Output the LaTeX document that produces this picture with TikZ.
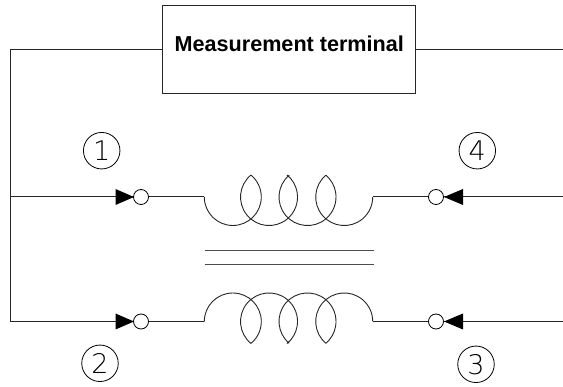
\documentclass[tikz,border=0pt]{standalone}
\usepackage{fontspec}
\setmainfont{Liberation Sans}
\newfontfamily\digitfont{DejaVu Sans}[UprightFont=* ExtraLight]
\tikzset{
  x=1pt,y=-1pt,
  wire/.style={line width=1pt,black!85},
  coil/.style={line width=0.9pt,black!85},
  termbox/.style={draw=black!85,line width=1pt,minimum width=253pt,minimum height=88pt,inner sep=0pt,text height=10pt,text depth=5.2pt,font=\bfseries\fontsize{21.6pt}{24pt}\selectfont},
  port/.style={circle,draw=black,line width=0.8pt,minimum size=15pt,inner sep=0pt,fill=white},
  tag/.style={circle,draw=black,line width=0.8pt,minimum size=36.5pt,inner sep=0pt,font=\digitfont\fontsize{27pt}{27pt}\selectfont},
  tip/.style={fill=black,draw=none},
  turn/.style={coil,x radius=28.5,y radius=-28.5}
}
\begin{document}
\begin{tikzpicture}
\useasboundingbox (0,0) rectangle (563,387);
\node[termbox] (T) at (289.3,49.3) {Measurement terminal};
\coordinate (TL) at (10,50);
\coordinate (TR) at (563,50);
\coordinate (BL1) at (10,197);
\coordinate (BL2) at (10,321.5);
\coordinate (ER1) at (563,197);
\coordinate (ER2) at (563,321.5);
\node[port] (P1) at (141,197) {};
\node[port] (P2) at (141,321.5) {};
\node[port] (P4) at (436,197) {};
\node[port] (P3) at (436,321.5) {};
\node[tag] (N1) at (101.7,150.7) {1};
\node[tag] (N2) at (100,363.3) {2};
\node[tag] (N4) at (477.3,150.7) {4};
\node[tag] (N3) at (476,364.3) {3};
\draw[wire] (T.west |- TL) -- (TL) -- (BL2) -- (P2.west);
\draw[wire] (BL1) -- (P1.west);
\draw[wire] (T.east |- TR) -- (TR);
\draw[wire] (ER1) -- (P4.east);
\draw[wire] (ER2) -- (P3.east);
\fill[tip] (134,197) -- (115.5,189) -- (115.5,205) -- cycle;
\fill[tip] (134,321.5) -- (115.5,313.5) -- (115.5,329.5) -- cycle;
\fill[tip] (444,197) -- (463,189) -- (463,205) -- cycle;
\fill[tip] (444,321.5) -- (463,313.5) -- (463,329.5) -- cycle;
% top winding
\coordinate (CA) at (204.3,197);
\coordinate (CB) at (372.7,197);
\draw[wire] (P1.east) -- (CA);
\draw[wire] (P4.west) -- (CB);
\draw[turn] (CA) arc[start angle=180,end angle=410];
\draw[turn] (251.1,174.9) arc[start angle=129,end angle=411];
\draw[turn] (289.2,175.2) arc[start angle=130,end angle=410];
\draw[turn] (325.9,175.2) arc[start angle=130,end angle=360];
% core
\coordinate (K1a) at (204.5,251);
\coordinate (K1b) at (374,251);
\coordinate (K2a) at (204.5,264.5);
\coordinate (K2b) at (374,264.5);
\draw[wire,black!70] (K1a) -- (K1b);
\draw[wire,black!70] (K2a) -- (K2b);
% bottom winding
\coordinate (DA) at (204.3,321.5);
\coordinate (DB) at (372.7,321.5);
\draw[wire] (P2.east) -- (DA);
\draw[wire] (P3.west) -- (DB);
\draw[turn] (DA) arc[start angle=180,end angle=-50];
\draw[turn] (251.1,343.6) arc[start angle=231,end angle=-51];
\draw[turn] (289.2,343.3) arc[start angle=230,end angle=-50];
\draw[turn] (325.9,343.3) arc[start angle=230,end angle=0];
\end{tikzpicture}
\end{document}
